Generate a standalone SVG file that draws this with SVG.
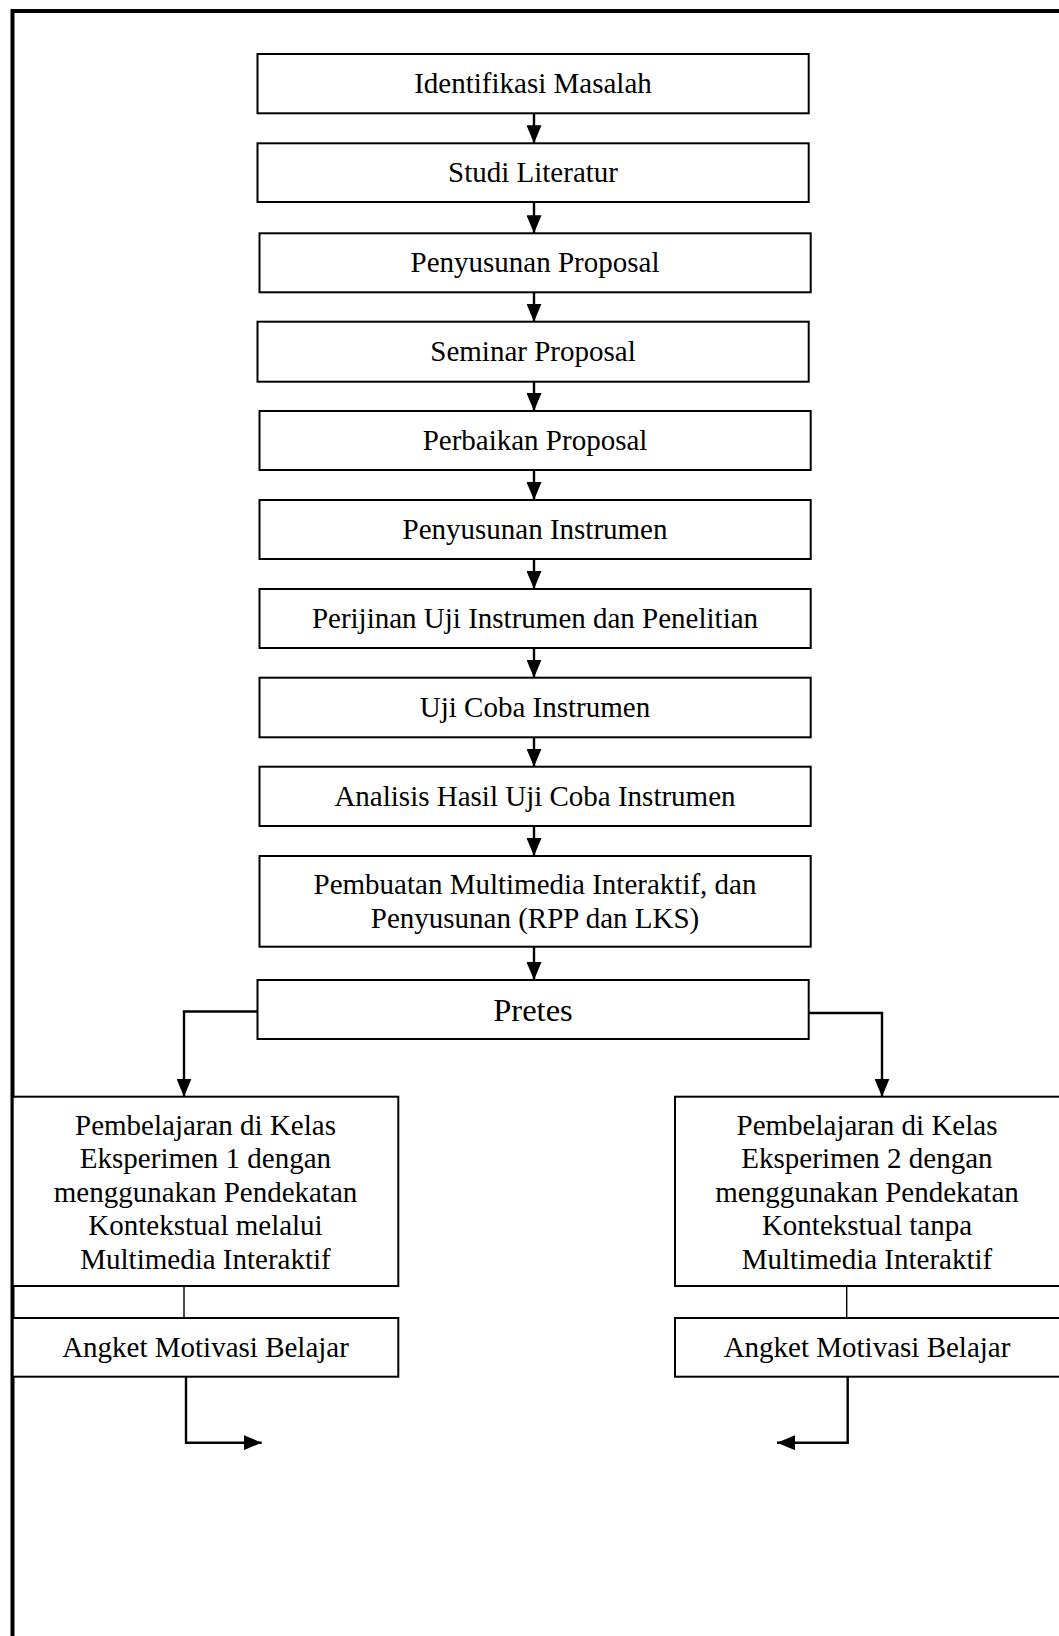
<svg xmlns="http://www.w3.org/2000/svg" width="1059" height="1636" viewBox="0 0 1059 1636">
<style>
.box{fill:#fff;stroke:#000;stroke-width:2}
.t{font-family:"Liberation Serif","Times New Roman",serif;font-size:29px;fill:#000;text-anchor:middle}
.tb{font-family:"Liberation Serif","Times New Roman",serif;font-size:32.5px;fill:#000;text-anchor:middle}
.c{fill:none;stroke:#000;stroke-width:2.4}
.thin{fill:none;stroke:#000;stroke-width:1.4}
</style>
<defs>
<marker id="ah" markerUnits="userSpaceOnUse" markerWidth="18" markerHeight="15" refX="18" refY="7.5" orient="auto">
<path d="M0,0 L18,7.5 L0,15 z" fill="#000"/>
</marker>
</defs>
<rect width="1059" height="1636" fill="#fff"/>
<g id="frame">
<path d="M12.5,1636 L12.5,11 L1059,11" fill="none" stroke="#000" stroke-width="4"/>
</g>
<g id="connectors">
<line class="c" x1="534" y1="113.3" x2="534" y2="143.3" marker-end="url(#ah)"/>
<line class="c" x1="534" y1="202" x2="534" y2="233.3" marker-end="url(#ah)"/>
<line class="c" x1="534" y1="292.3" x2="534" y2="321.7" marker-end="url(#ah)"/>
<line class="c" x1="534" y1="381.7" x2="534" y2="411" marker-end="url(#ah)"/>
<line class="c" x1="534" y1="470" x2="534" y2="500" marker-end="url(#ah)"/>
<line class="c" x1="534" y1="559" x2="534" y2="589" marker-end="url(#ah)"/>
<line class="c" x1="534" y1="648" x2="534" y2="677.7" marker-end="url(#ah)"/>
<line class="c" x1="534" y1="737.3" x2="534" y2="766.7" marker-end="url(#ah)"/>
<line class="c" x1="534" y1="826" x2="534" y2="856" marker-end="url(#ah)"/>
<line class="c" x1="534" y1="946.7" x2="534" y2="980" marker-end="url(#ah)"/>
<polyline class="c" points="257.5,1011.5 184,1011.5 184,1096.7" marker-end="url(#ah)"/>
<polyline class="c" points="808.7,1013 882,1013 882,1096.7" marker-end="url(#ah)"/>
<line class="thin" x1="184" y1="1286" x2="184" y2="1318"/>
<line class="thin" x1="846.7" y1="1286" x2="846.7" y2="1318"/>
<polyline class="c" points="186,1376.7 186,1442.7 261.7,1442.7" marker-end="url(#ah)"/>
<polyline class="c" points="847.7,1376.7 847.7,1442.7 777,1442.7" marker-end="url(#ah)"/>
</g>
<g id="n1"><rect class="box" x="257.5" y="54" width="551.2" height="59.3"/><text class="t" x="533" y="93">Identifikasi Masalah</text></g>
<g id="n2"><rect class="box" x="257.5" y="143.3" width="551.2" height="58.7"/><text class="t" x="533" y="182">Studi Literatur</text></g>
<g id="n3"><rect class="box" x="259.5" y="233.3" width="551.2" height="59"/><text class="t" x="535" y="272">Penyusunan Proposal</text></g>
<g id="n4"><rect class="box" x="257.5" y="321.7" width="551.2" height="60"/><text class="t" x="533" y="361">Seminar Proposal</text></g>
<g id="n5"><rect class="box" x="259.5" y="411" width="551.2" height="59"/><text class="t" x="535" y="450">Perbaikan Proposal</text></g>
<g id="n6"><rect class="box" x="259.5" y="500" width="551.2" height="59"/><text class="t" x="535" y="539">Penyusunan Instrumen</text></g>
<g id="n7"><rect class="box" x="259.5" y="589" width="551.2" height="59"/><text class="t" x="535" y="628">Perijinan Uji Instrumen dan Penelitian</text></g>
<g id="n8"><rect class="box" x="259.5" y="677.7" width="551.2" height="59.6"/><text class="t" x="535" y="717">Uji Coba Instrumen</text></g>
<g id="n9"><rect class="box" x="259.5" y="766.7" width="551.2" height="59.3"/><text class="t" x="535" y="806">Analisis Hasil Uji Coba Instrumen</text></g>
<g id="n10"><rect class="box" x="259.5" y="856" width="551.2" height="90.7"/><text class="t" x="535" y="894">Pembuatan Multimedia Interaktif, dan</text><text class="t" x="535" y="927.5">Penyusunan (RPP dan LKS)</text></g>
<g id="n11"><rect class="box" x="257.5" y="980" width="551.2" height="59"/><text class="tb" x="533" y="1020.5">Pretes</text></g>
<g id="n12"><rect class="box" x="12.7" y="1096.7" width="385.6" height="189.3"/>
<text class="t" x="205.5" y="1135">Pembelajaran di Kelas</text>
<text class="t" x="205.5" y="1168.4">Eksperimen 1 dengan</text>
<text class="t" x="205.5" y="1201.8">menggunakan Pendekatan</text>
<text class="t" x="205.5" y="1235.2">Kontekstual melalui</text>
<text class="t" x="205.5" y="1268.6">Multimedia Interaktif</text></g>
<g id="n13"><rect class="box" x="675" y="1096.7" width="390" height="189.3"/>
<text class="t" x="867" y="1135">Pembelajaran di Kelas</text>
<text class="t" x="867" y="1168.4">Eksperimen 2 dengan</text>
<text class="t" x="867" y="1201.8">menggunakan Pendekatan</text>
<text class="t" x="867" y="1235.2">Kontekstual tanpa</text>
<text class="t" x="867" y="1268.6">Multimedia Interaktif</text></g>
<g id="n14"><rect class="box" x="12.7" y="1318" width="385.6" height="58.7"/><text class="t" x="205.5" y="1357">Angket Motivasi Belajar</text></g>
<g id="n15"><rect class="box" x="675" y="1318" width="390" height="58.7"/><text class="t" x="867" y="1357">Angket Motivasi Belajar</text></g>
</svg>
